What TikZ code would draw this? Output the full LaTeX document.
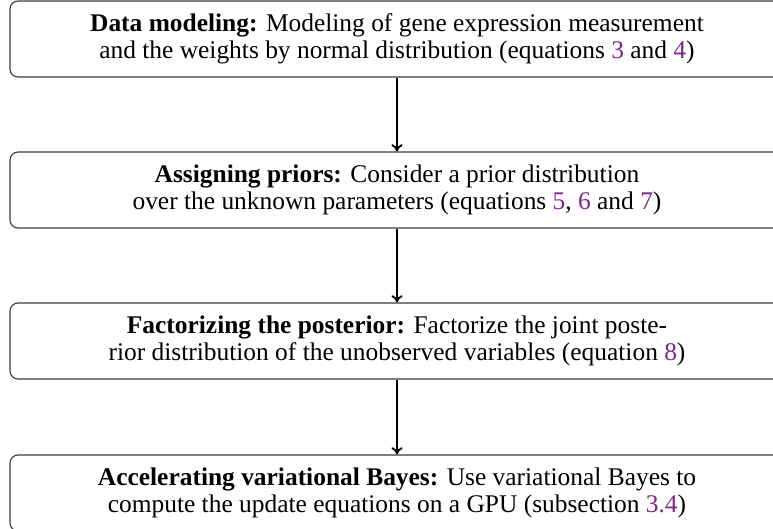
\documentclass[tikz,border=0pt]{standalone}
\usepackage{fontspec}
\setmainfont{Liberation Serif}
\usetikzlibrary{arrows.meta}
\definecolor{linkpurple}{RGB}{128,36,138}
\definecolor{boxline}{RGB}{60,60,60}
\newcommand{\lnk}[1]{\textcolor{linkpurple}{#1}}
\begin{document}
\begin{tikzpicture}[x=0.4444pt,y=-0.4444pt,
  stepbox/.style={draw=boxline, line width=0.5pt, rounded corners=3.6pt,
    minimum width=344pt, minimum height=33.8pt, inner sep=0pt,
    align=center, font=\fontsize{11.3pt}{12pt}\selectfont},
  flow/.style={line width=0.85pt, -{To[length=3.2pt,width=5pt]}}]
\useasboundingbox (0,0) rectangle (773,529);
\clip (0,0) rectangle (773,529);
\node[stepbox] (b1) at (397,39) {\textbf{Data modeling:} Modeling of gene expression measurement\\and the weights by normal distribution (equations \lnk{3} and \lnk{4})};
\node[stepbox] (b2) at (397,190) {\textbf{Assigning priors:} Consider a prior distribution\\over the unknown parameters (equations \lnk{5}, \lnk{6} and \lnk{7})};
\node[stepbox] (b3) at (397,341) {\textbf{Factorizing the posterior:} Factorize the joint poste-\\rior distribution of the unobserved variables (equation \lnk{8})};
\node[stepbox] (b4) at (397,493) {\textbf{Accelerating variational Bayes:} Use variational Bayes to\\compute the update equations on a GPU (subsection \lnk{3.4})};
\draw[flow] (b1) -- (b2);
\draw[flow] (b2) -- (b3);
\draw[flow] (b3) -- (b4);
\end{tikzpicture}
\end{document}
